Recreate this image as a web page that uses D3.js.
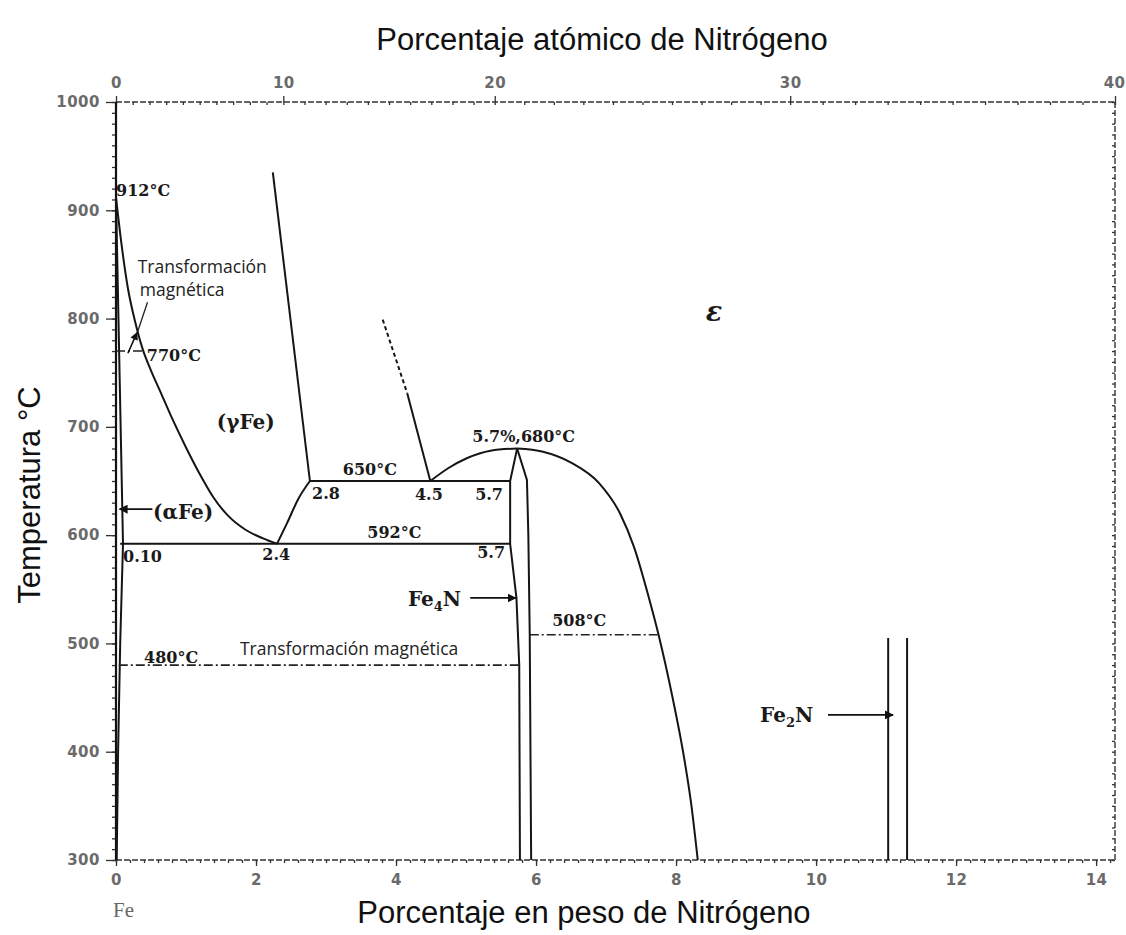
<!DOCTYPE html>
<html>
<head>
<meta charset="utf-8">
<script src="https://cdn.jsdelivr.net/npm/d3@7"></script>
<style>
  body { margin: 0; background: #fff; }
  .phase { fill: none; stroke: #151515; stroke-width: 2; }
  .magnetic { fill: none; stroke: #222; stroke-width: 1.6; stroke-dasharray: 9,3,2,3; }
  .axis-title { font-family: "Liberation Sans", Arial, sans-serif; font-size: 31px; fill: #111; }
  .tick-font text { font-family: "DejaVu Sans", sans-serif; font-weight: bold; font-size: 15px; fill: #6a6a6a; letter-spacing: 0.5px; }
  .lbl { font-family: "DejaVu Serif", serif; font-weight: bold; font-size: 16px; fill: #1a1a1a; }
  .big { font-size: 20px; }
  .note { font-family: "Open Sans", sans-serif; font-size: 17.5px; fill: #222; }
</style>
</head>
<body>
<script>
// ---- data (wt% N, temperature in °C) ----
const wtTicks = [0, 2, 4, 6, 8, 10, 12, 14];
const atTicks = [0, 10, 20, 30, 40];
const atTickWt = [0, 2.39, 5.41, 9.63, 14.27]; // where the original figure places each at.% tick on the wt% scale
const tempTicks = [300, 400, 500, 600, 700, 800, 900, 1000];

// phase boundaries
const alphaUpper = [[0, 912], [0.1, 592]];
const alphaSolvus = [[0.1, 592], [0.06, 500], [0.03, 400], [0.01, 300]];
const gammaLeft = [[0, 912], [0.08, 868], [0.17, 828], [0.27, 798], [0.38, 772], [0.5, 752], [0.63, 733], [0.8, 708],
                   [1.0, 681], [1.2, 656], [1.39, 635], [1.6, 618], [1.85, 605], [2.1, 597], [2.3, 592]];
const gammaRight = [[2.24, 935], [2.77, 650]];
const gammaLow = [[2.3, 592], [2.45, 612], [2.6, 633], [2.77, 650]];
const gammaEpsDashed = [[3.81, 799], [4.16, 731]];
const gammaEps = [[4.16, 731], [4.49, 650]];
const gammaEpsTop = [[4.49, 650], [4.75, 662], [5.01, 671], [5.35, 678], [5.73, 680]];
const epsSolvus = [[5.73, 680], [6.1, 677], [6.5, 667], [6.9, 648], [7.2, 620], [7.4, 589], [7.6, 545], [7.75, 508],
                   [7.95, 450], [8.1, 400], [8.22, 350], [8.31, 300]];
const fe4nLeft = [[5.73, 680], [5.63, 650], [5.63, 592], [5.72, 542], [5.76, 480], [5.77, 300]];
const fe4nRight = [[5.73, 680], [5.87, 651], [5.89, 600], [5.91, 508], [5.93, 300]];
const fe2nLeft = [[11.03, 505], [11.03, 300]];
const fe2nRight = [[11.3, 505], [11.3, 300]];

// isotherms: [°C, from wt%, to wt%]
const isotherms = [[650, 2.77, 5.63], [592, 0.06, 5.63]];
const magneticLines = [[770, 0, 0.38], [480, 0.04, 5.76], [508, 5.91, 7.75]];

// arrows: [from wt%, to wt%, °C]
const arrows = [[0.52, 0.05, 624], [5.06, 5.71, 542], [10.17, 11.1, 434]];

// labels: [text, wt%, °C]
const labels = [
  ["912°C", 0.0, 913], ["770°C", 0.44, 761],
  ["650°C", 3.24, 656], ["592°C", 3.59, 597], ["2.8", 2.8, 633], ["4.5", 4.27, 632], ["5.7", 5.13, 632],
  ["0.10", 0.1, 575], ["2.4", 2.09, 577], ["5.7", 5.16, 579], ["5.7%,680°C", 5.09, 686],
  ["508°C", 6.23, 516], ["480°C", 0.4, 482]
];
const phaseLabels = [["(γFe)", 1.44, 698], ["(αFe)", 0.53, 615]];
// compound labels: [base, subscript, rest, wt%, °C]
const compounds = [["Fe", "4", "N", 4.17, 535], ["Fe", "2", "N", 9.2, 427]];
// notes: [text, wt%, °C]
const notes = [["Transformación", 0.31, 842], ["magnética", 0.34, 821], ["Transformación magnética", 1.77, 489]];

// ---- layout ----
const w = 1126, h = 935;
const svg = d3.select("body").append("svg").attr("width", w).attr("height", h);

const x = d3.scaleLinear().domain([0, 14.27]).range([116, 1115]);
const y = d3.scaleLinear().domain([300, 1000]).range([860, 102]);
const xAt = d3.scaleLinear().domain(atTicks).range(atTickWt.map(x));

svg.append("defs").append("marker")
  .attr("id", "head")
  .attr("viewBox", "0 0 10 10")
  .attr("refX", 9).attr("refY", 5)
  .attr("markerWidth", 5).attr("markerHeight", 5)
  .attr("orient", "auto")
  .append("path").attr("d", "M0,0L10,5L0,10z").attr("fill", "#111");

// frame (top, right, bottom drawn dashed like the scan)
const frame = svg.append("g").attr("stroke", "#333").attr("stroke-width", 1.4).attr("stroke-dasharray", "6,2");
frame.append("line").attr("x1", x(0)).attr("x2", x(14.27)).attr("y1", y(1000)).attr("y2", y(1000));
frame.append("line").attr("x1", x(14.27)).attr("x2", x(14.27)).attr("y1", y(1000)).attr("y2", y(300));
frame.append("line").attr("x1", x(0)).attr("x2", x(14.27)).attr("y1", y(300)).attr("y2", y(300));

// axes
function styleAxis(g) {
  g.select(".domain").remove();
  g.selectAll("line").attr("stroke", "#333").attr("stroke-width", 1.3);
}

svg.append("g").attr("transform", `translate(0,${y(300)})`)
  .call(d3.axisBottom(x).tickValues(d3.range(0, 14.21, 0.2)).tickSize(3).tickFormat(""))
  .call(styleAxis);
svg.append("g").attr("class", "tick-font").attr("transform", `translate(0,${y(300)})`)
  .call(d3.axisBottom(x).tickValues(wtTicks).tickSize(6).tickPadding(8).tickFormat(d3.format("d")))
  .call(styleAxis);

svg.append("g").attr("transform", `translate(0,${y(1000)})`)
  .call(d3.axisTop(xAt).tickValues(d3.range(0, 41)).tickSize(-3).tickFormat(""))
  .call(styleAxis);
const topAxis = svg.append("g").attr("class", "tick-font").attr("transform", `translate(0,${y(1000)})`)
  .call(d3.axisTop(xAt).tickValues(atTicks).tickSize(6).tickPadding(8).tickFormat(d3.format("d")))
  .call(styleAxis);
// last top label sits at the picture's right edge
topAxis.selectAll(".tick text").filter(d => d === 40).attr("text-anchor", "end").attr("dx", 10);

svg.append("g").attr("transform", `translate(${x(0)},0)`)
  .call(d3.axisLeft(y).tickValues(d3.range(300, 1001, 10)).tickSize(4).tickFormat(""))
  .call(styleAxis);
svg.append("g").attr("class", "tick-font").attr("transform", `translate(${x(0)},0)`)
  .call(d3.axisLeft(y).tickValues(tempTicks).tickSize(10).tickPadding(6).tickFormat(d3.format("d")))
  .call(styleAxis);

svg.append("g").attr("transform", `translate(${x(14.27)},0)`)
  .call(d3.axisLeft(y).tickValues(d3.range(300, 1001, 10)).tickSize(3).tickFormat(""))
  .call(styleAxis);

// left axis line (coincides with alpha boundary)
svg.append("line").attr("x1", x(0)).attr("x2", x(0)).attr("y1", y(1000)).attr("y2", y(300))
  .attr("stroke", "#111").attr("stroke-width", 2.2);

// phase boundaries
const smooth = d3.line().x(d => x(d[0])).y(d => y(d[1])).curve(d3.curveMonotoneX);
const straight = d3.line().x(d => x(d[0])).y(d => y(d[1]));

[gammaLeft, gammaLow, gammaEpsTop, epsSolvus].forEach(c =>
  svg.append("path").attr("class", "phase").attr("d", smooth(c)));
[alphaUpper, alphaSolvus, gammaRight, gammaEps, fe4nLeft, fe4nRight, fe2nLeft, fe2nRight].forEach(c =>
  svg.append("path").attr("class", "phase").attr("d", straight(c)));
svg.append("path").attr("class", "phase").attr("stroke-dasharray", "4,3").attr("d", straight(gammaEpsDashed));

isotherms.forEach(d =>
  svg.append("line").attr("class", "phase")
    .attr("x1", x(d[1])).attr("x2", x(d[2])).attr("y1", y(d[0])).attr("y2", y(d[0])));

magneticLines.forEach(d =>
  svg.append("line").attr("class", "magnetic")
    .attr("x1", x(d[1])).attr("x2", x(d[2])).attr("y1", y(d[0])).attr("y2", y(d[0])));

// arrows
arrows.forEach(d =>
  svg.append("line").attr("stroke", "#111").attr("stroke-width", 1.8)
    .attr("x1", x(d[0])).attr("x2", x(d[1])).attr("y1", y(d[2])).attr("y2", y(d[2]))
    .attr("marker-end", "url(#head)"));

// magnetic transformation pointer at 770 °C
svg.append("path").attr("fill", "none").attr("stroke", "#111").attr("stroke-width", 1.6)
  .attr("d", straight([[0.17, 768], [0.3, 787]])).attr("marker-end", "url(#head)");
svg.append("path").attr("fill", "none").attr("stroke", "#222").attr("stroke-width", 1.3)
  .attr("d", straight([[0.45, 815], [0.31, 788]]));

// labels
svg.selectAll(".num").data(labels).enter().append("text")
  .attr("class", "lbl num")
  .attr("x", d => x(d[1])).attr("y", d => y(d[2]))
  .text(d => d[0]);

svg.selectAll(".ph").data(phaseLabels).enter().append("text")
  .attr("class", "lbl big ph")
  .attr("x", d => x(d[1])).attr("y", d => y(d[2]))
  .text(d => d[0]);

const comp = svg.selectAll(".comp").data(compounds).enter().append("text")
  .attr("class", "lbl big comp")
  .attr("x", d => x(d[3])).attr("y", d => y(d[4]));
comp.append("tspan").text(d => d[0]);
comp.append("tspan").attr("dy", 5).style("font-size", "13px").text(d => d[1]);
comp.append("tspan").attr("dy", -5).text(d => d[2]);

svg.append("text").attr("class", "lbl").style("font-size", "27px").style("font-style", "italic")
  .attr("x", x(8.54)).attr("y", y(798)).attr("text-anchor", "middle").text("ε");

svg.selectAll(".note").data(notes).enter().append("text")
  .attr("class", "note")
  .attr("x", d => x(d[1])).attr("y", d => y(d[2]))
  .text(d => d[0]);

// axis titles
svg.append("text").attr("class", "axis-title").attr("text-anchor", "middle")
  .attr("x", 602).attr("y", 50).text("Porcentaje atómico de Nitrógeno");
svg.append("text").attr("class", "axis-title").attr("text-anchor", "middle")
  .attr("x", 584).attr("y", 923).text("Porcentaje en peso de Nitrógeno");
svg.append("text").attr("class", "axis-title").attr("text-anchor", "middle")
  .attr("transform", "translate(40,495) rotate(-90)").text("Temperatura °C");
svg.append("text").attr("x", 113).attr("y", 917)
  .style("font-family", "Liberation Serif, serif").style("font-size", "21px").style("fill", "#666")
  .text("Fe");
</script>
</body>
</html>
